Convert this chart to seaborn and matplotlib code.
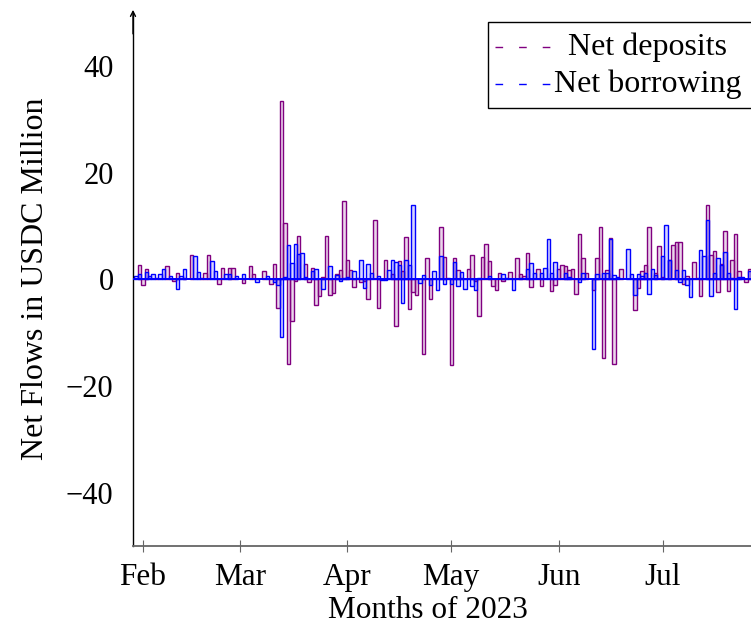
import matplotlib
matplotlib.use("Agg")
import matplotlib.pyplot as plt
from matplotlib.colors import to_rgba
from matplotlib.patches import Rectangle
import pandas as pd
import seaborn as sns

# Daily net flows in USDC million; day 0 is 1 February 2023 (negative days fall in late January).
deposit_days = [-1, 0, 1, 4, 7, 9, 10, 12, 14, 17, 18, 19, 22, 23, 25, 26, 29, 31, 32, 35,
                37, 38, 39, 40, 41, 42, 43, 44, 45, 47, 48, 49, 50, 51, 52, 53, 54, 55, 56, 57,
                58, 59, 60, 61, 62, 63, 64, 65, 67, 68, 70, 72, 73, 74, 75, 76, 77, 78, 79, 81,
                82, 83, 86, 87, 88, 89, 90, 91, 92, 94, 95, 96, 97, 98, 99, 100, 101, 102, 103, 104,
                106, 108, 109, 110, 111, 112, 114, 115, 118, 119, 120, 121, 122, 123, 124, 125, 126, 127, 128, 130,
                131, 132, 133, 134, 135, 136, 138, 142, 143, 144, 145, 146, 148, 149, 150, 152, 153, 154, 155, 156,
                157, 159, 160, 161, 163, 164, 165, 166, 167, 168, 169, 170, 171, 172, 174, 175]
deposit_values = [2.7, -1.1, 2.0, 0.3, 2.4, -0.3, 1.25, 0.3, 4.6, 0.3, 1.25, 4.6, -0.9, 2.2, 2.2, 2.2, -0.7, 2.5, 0.9, 1.6,
                  -0.9, 2.8, -5.4, 33.4, 10.6, -15.8, -7.9, -0.4, 8.1, 2.9, -0.6, 2.1, -4.75, -3.1, 0.4, 8.1, -3.0, -2.5, 0.9, 1.8,
                  14.6, 3.6, 1.8, -1.4, 0.25, -0.5, -0.3, -3.75, 11.1, -5.4, 3.6, 0.9, -8.75, 3.4, 1.5, 7.9, -5.5, -2.4, -2.9, -14.0,
                  4.0, -3.75, 9.8, 4.1, 0.2, -16.0, 4.0, 1.7, 0.3, 1.9, 4.6, -0.3, -6.9, 4.1, 6.7, 3.4, -1.3, -2.0, 1.1, -0.4,
                  1.4, 4.0, 0.9, 0.6, 5.0, -1.4, 1.9, -1.3, -2.25, -1.0, 2.0, 2.6, 2.5, 1.8, 2.0, -2.8, 8.4, 3.9, 1.2, -2.0,
                  3.9, 9.8, -14.7, 1.8, 7.8, -15.8, 2.0, -5.7, -1.6, 1.6, 2.75, 9.8, 1.25, 6.2, 0.4, 3.7, 6.5, 7.0, 7.0, -0.8,
                  0.6, 3.25, 0.3, -3.2, 13.9, 4.6, 5.25, -2.4, 2.9, 9.1, -2.25, 3.6, 8.4, 1.5, -0.6, 1.9]

borrow_days = [-2, -1, 1, 2, 3, 5, 6, 8, 10, 11, 12, 15, 16, 20, 21, 24, 25, 27, 29, 33,
               36, 38, 39, 40, 41, 42, 43, 44, 45, 46, 47, 49, 50, 52, 54, 56, 57, 58, 59, 61,
               63, 64, 65, 66, 68, 69, 70, 71, 72, 73, 74, 75, 76, 77, 78, 80, 81, 83, 84, 85,
               86, 87, 89, 90, 91, 92, 93, 95, 96, 97, 100, 104, 105, 107, 109, 111, 112, 113, 115, 116,
               117, 118, 119, 122, 123, 126, 127, 130, 131, 133, 134, 135, 136, 137, 140, 141, 142, 143, 144, 145,
               146, 147, 148, 150, 151, 152, 154, 155, 156, 157, 158, 161, 162, 163, 164, 165, 166, 167, 168, 169,
               170, 171, 172, 173, 175]
borrow_values = [0.6, 1.0, 1.4, 0.6, 1.0, 0.9, 2.0, 0.6, -1.75, 0.6, 2.0, 4.3, 1.4, 3.4, 1.6, 1.0, 1.0, 0.6, 1.0, -0.6,
                 0.6, -0.5, -1.1, -10.9, 0.4, 6.4, 3.1, 6.6, 4.8, 4.9, 0.4, 1.5, 1.9, -1.75, 2.4, 0.75, -0.4, 0.3, 0.4, 1.6,
                 3.6, -1.6, 2.9, 1.1, 0.6, -0.2, -0.2, 1.7, 3.7, 3.25, 2.6, -4.4, 3.7, 2.75, 14.0, -0.7, 0.75, -1.0, 1.5, -2.0,
                 4.3, -0.8, -0.8, 3.25, -1.3, 1.4, -1.9, -1.3, -2.0, 0.3, 0.6, 0.9, 0.2, -2.0, 0.2, 1.9, 3.1, 1.1, 1.1, 2.2,
                 7.6, 1.1, 3.25, 1.1, 0.4, -0.6, 1.1, -13.0, 0.9, 1.25, 1.25, 7.6, 0.75, 0.4, 5.75, 0.9, -3.0, 0.9, 0.6, 1.25,
                 -2.8, 1.9, 0.75, 4.4, 10.25, 3.6, 1.7, -0.5, 1.8, -1.0, -3.4, 5.4, 4.4, 11.1, -3.2, 1.1, 4.0, 2.6, 5.1, 1.1,
                 0.3, -5.5, 0.4, 0.4, 1.5]

month_days = [0, 28, 59, 89, 120, 150]
month_labels = ["Feb", "Mar", "Apr", "May", "Jun", "Jul"]
y_ticks = [-40, -20, 0, 20, 40]
series_names = ["Net deposits", "Net borrowing"]

PURPLE = "#800080"
BLUE = "#0000ff"

sns.set_theme(style="white")
plt.rcParams["font.family"] = ["Liberation Serif", "DejaVu Serif"]
plt.rcParams["text.color"] = "black"
plt.rcParams["axes.labelcolor"] = "black"

fig = plt.figure(figsize=(7.51, 6.39), dpi=100)
ax = fig.add_axes([133 / 751, 1 - 546 / 639, 618 / 751, 533.5 / 639])

frames = [
    pd.DataFrame({"day": deposit_days, "flow": deposit_values}),
    pd.DataFrame({"day": borrow_days, "flow": borrow_values}),
]
colors = [PURPLE, BLUE]

for frame, col in zip(frames, colors):
    start = len(ax.patches)
    sns.barplot(data=frame, x="day", y="flow", native_scale=True, width=1.0,
                color=col, errorbar=None, ax=ax)
    for bar in ax.patches[start:]:
        bar.set_facecolor(to_rgba(col, 0.16))
        bar.set_edgecolor(col)
        bar.set_linewidth(1.0)

# zero baseline
ax.axhline(0, color=BLUE, lw=1.4, zorder=4)

ax.set_xlim(-2.83, 175.5)
ax.set_ylim(-50, 50)

ax.set_xticks(month_days, month_labels)
ax.set_yticks(y_ticks)
ax.tick_params(axis="x", bottom=True, direction="inout", length=8, width=0.8,
               color="#666666", labelsize=22.5, pad=8, labelcolor="black")
ax.tick_params(axis="y", left=True, length=0, labelsize=22, pad=14, labelcolor="black")

for side in ("top", "right"):
    ax.spines[side].set_visible(False)
ax.spines["left"].set_color("black")
ax.spines["left"].set_linewidth(1.0)
ax.spines["bottom"].set_color("#666666")
ax.spines["bottom"].set_linewidth(1.3)

# arrow head on the y axis
ax.annotate("", xy=(0, 1.005), xytext=(0, 0.96), xycoords="axes fraction",
            arrowprops=dict(arrowstyle="->", color="black", lw=1.0, mutation_scale=9,
                            shrinkA=0, shrinkB=0),
            annotation_clip=False)

ax.set_xlabel("Months of 2023", fontsize=22.5, color="black")
ax.set_ylabel("Net Flows in USDC Million", fontsize=23, color="black")
ax.xaxis.set_label_coords(0.477, -0.094)
ax.yaxis.set_label_coords(-0.135, 0.5)

# legend box with dashed samples and centred entries
ax.add_patch(Rectangle((0.5744, 0.821), 0.43, 0.161, transform=ax.transAxes,
                       facecolor="white", edgecolor="black", lw=1.0,
                       clip_on=False, zorder=6))
for name, col, yy in zip(series_names, colors, (0.935, 0.866)):
    ax.plot([0.586, 0.676], [yy, yy], transform=ax.transAxes, color=col, lw=1.0,
            dashes=(5.5, 11.5), clip_on=False, zorder=7)
    ax.text(0.833, yy, name, transform=ax.transAxes, ha="center", va="center",
            fontsize=23, color="black", zorder=7)

fig.savefig("out.png", dpi=100)
